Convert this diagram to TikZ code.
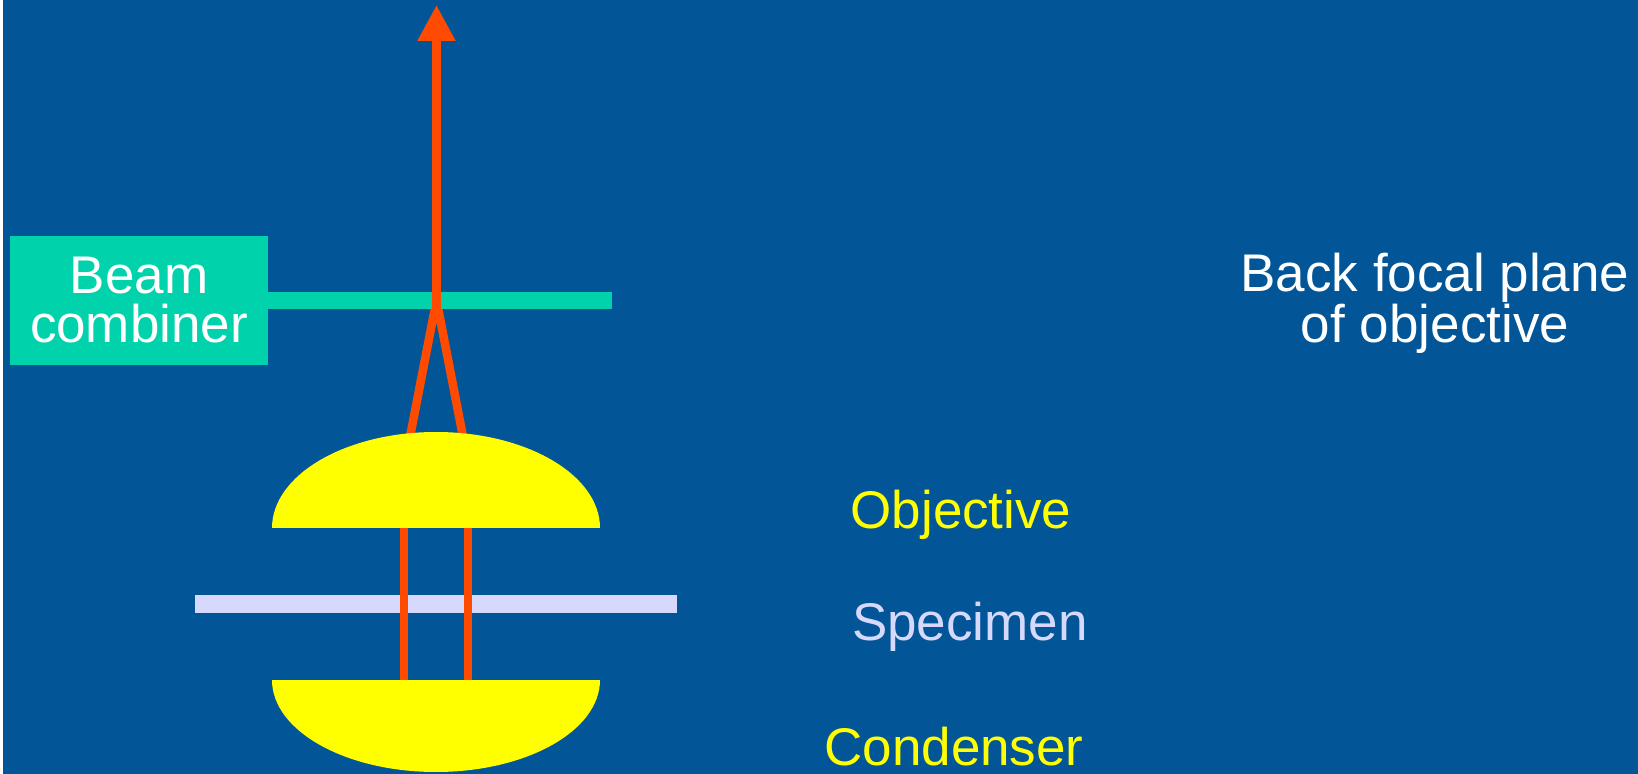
\documentclass[tikz,border=0pt]{standalone}
\usepackage{fontspec}
\setmainfont{Liberation Sans}
\usetikzlibrary{arrows.meta}
\definecolor{slide}{RGB}{2,85,150}
\definecolor{combiner}{RGB}{0,210,172}
\definecolor{ray}{RGB}{255,75,0}
\definecolor{lens}{RGB}{255,255,0}
\definecolor{specimen}{RGB}{214,216,252}
\tikzset{
  label/.style={inner sep=0pt, anchor=base, font=\fontsize{26.5pt}{24.5pt}\selectfont},
  beam/.style={draw=ray, line width=4.25pt}
}
\begin{document}
\begin{tikzpicture}[x=0.5pt,y=-0.5pt]

        \fill[white] (0,0) rectangle (1638,774);
        \fill[slide] (3,0) rectangle (1638,774);
        \useasboundingbox (0,0) rectangle (1638,774);

        \coordinate (raylow1) at (404,680);
        \coordinate (raylow2) at (468,680);
        \coordinate (rayhigh1) at (404,520);
        \coordinate (rayhigh2) at (468,520);
        \coordinate (fanleft) at (409,442);
        \coordinate (fanright) at (464,442);
        \coordinate (apex) at (436.5,300);
        \coordinate (shaftfoot) at (436.5,309);
        \coordinate (tip) at (436.5,5);

        \fill[specimen] (195,595) rectangle (677,613);
        \draw[beam] (raylow1) -- (rayhigh1);
        \draw[beam] (raylow2) -- (rayhigh2);
        \draw[beam] (fanleft) -- (apex) -- (fanright);

        \fill[lens] (272,528) arc[start angle=180, end angle=360, x radius=164, y radius=96] -- cycle;
        \fill[lens] (272,680) arc[start angle=180, end angle=0, x radius=164, y radius=92] -- cycle;

        \node[fill=combiner, minimum width=129pt, minimum height=64.5pt, inner sep=0pt,
              align=center, text=white, font=\fontsize{26.5pt}{24.5pt}\selectfont] (box) at (139,300.5) {Beam\\combiner};
        \fill[combiner] (268,292) rectangle (612,309);
        \draw[beam, -{Triangle[length=18pt, width=18pt]}] (shaftfoot) -- (tip);

        \node[label, text=white, align=center] (bfp) at (1435,343) {Back focal plane\\of objective};
        \node[label, text=lens] (objective) at (961,529) {Objective};
        \node[label, text=specimen] (spec) at (970,640) {Specimen};
        \node[label, text=lens] (condenser) at (954,765) {Condenser};
    \end{tikzpicture}
\end{document}
